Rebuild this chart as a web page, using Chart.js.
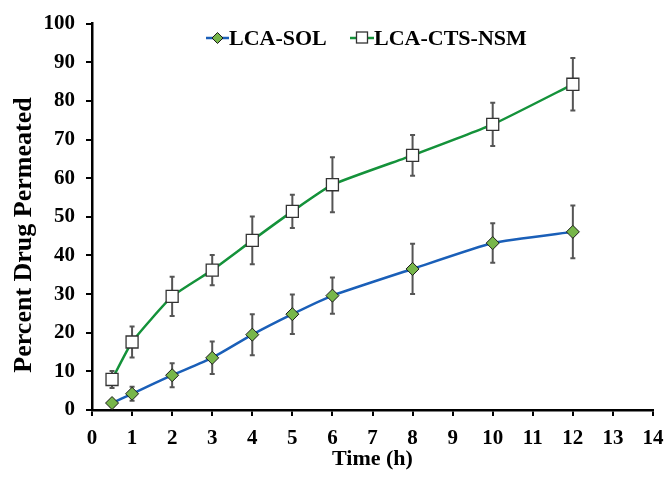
<!DOCTYPE html>
<html>
<head>
<meta charset="utf-8">
<script src="https://cdn.jsdelivr.net/npm/chart.js@4.4.1/dist/chart.umd.min.js"></script>
<style>
  body { margin: 0; background: #fff; }
  .wrap { position: relative; width: 666px; height: 477px; }
  .legend { position: absolute; top: 27px; left: 0; font: bold 22px "Liberation Serif", "Times New Roman", serif; color: #000; }
  .legend .item { position: absolute; display: flex; align-items: center; white-space: nowrap; line-height: 22px; }
  .legend svg { display: block; }
</style>
</head>
<body>
<div class="wrap">
  <canvas id="chart" width="666" height="477"></canvas>
  <div class="legend">
    <div class="item" style="left:206px">
      <svg width="23" height="22"><line x1="0" y1="11" x2="23" y2="11" stroke="#1a5fb8" stroke-width="2.5"/><path d="M11.5 5.5 L17 11 L11.5 16.5 L6 11 Z" fill="#77b64a" stroke="#1a1a1a" stroke-width="1"/></svg>
      <span>LCA-SOL</span>
    </div>
    <div class="item" style="left:350px">
      <svg width="24" height="22"><line x1="0" y1="11" x2="24" y2="11" stroke="#14923a" stroke-width="2.5"/><rect x="6.5" y="5" width="11" height="11" fill="#fff" stroke="#333" stroke-width="1.3"/></svg>
      <span>LCA-CTS-NSM</span>
    </div>
  </div>
</div>
<script>
const times = [0.5, 1, 2, 3, 4, 5, 6, 8, 10, 12];
const solMean = [1.8, 4.2, 9.0, 13.5, 19.5, 24.8, 29.6, 36.5, 43.2, 46.1];
const solErr = [0.8, 1.8, 3.1, 4.2, 5.3, 5.1, 4.7, 6.5, 5.1, 6.8];
const nsmMean = [7.9, 17.6, 29.4, 36.2, 43.9, 51.4, 58.3, 65.9, 73.9, 84.3];
const nsmErr = [2.2, 4.0, 5.1, 3.9, 6.2, 4.3, 7.1, 5.3, 5.6, 6.8];
const seriesNames = ['LCA-SOL', 'LCA-CTS-NSM'];
const xTitle = 'Time (h)';
const yTitle = 'Percent Drug Permeated';

const FONT = '"Liberation Serif", "Times New Roman", serif';

// error bars drawn under the markers
const errorBars = {
    id: 'errorBars',
    beforeDatasetsDraw(chart) {
        const ctx = chart.ctx;
        const y = chart.scales.y;
        ctx.save();
        ctx.strokeStyle = '#555';
        ctx.lineWidth = 2;
        chart.data.datasets.forEach((ds, di) => {
            const meta = chart.getDatasetMeta(di);
            meta.data.forEach((pt, i) => {
                const v = ds.data[i].y, e = ds.errors[i];
                const top = y.getPixelForValue(v + e);
                const bot = y.getPixelForValue(v - e);
                ctx.beginPath();
                ctx.moveTo(pt.x, top); ctx.lineTo(pt.x, bot);
                ctx.moveTo(pt.x - 2.5, top); ctx.lineTo(pt.x + 2.5, top);
                ctx.moveTo(pt.x - 2.5, bot); ctx.lineTo(pt.x + 2.5, bot);
                ctx.stroke();
            });
        });
        ctx.restore();
    }
};

// y title, sits a bit lower than the axis middle like the original
const yTitlePlugin = {
    id: 'yTitle',
    afterDraw(chart) {
        const ctx = chart.ctx;
        ctx.save();
        ctx.translate(24, 235);
        ctx.rotate(-Math.PI / 2);
        ctx.font = 'bold 26px ' + FONT;
        ctx.fillStyle = '#000';
        ctx.textAlign = 'center';
        ctx.textBaseline = 'middle';
        ctx.fillText(yTitle, 0, 0);
        ctx.restore();
    }
};

new Chart(document.getElementById('chart'), {
    type: 'line',
    data: {
        datasets: [
            {
                label: seriesNames[0],
                data: times.map((t, i) => ({ x: t, y: solMean[i] })),
                errors: solErr,
                borderColor: '#1a5fb8',
                borderWidth: 2.5,
                tension: 0.15,
                pointStyle: 'rectRot',
                pointRadius: 6.5,
                pointBackgroundColor: '#77b64a',
                pointBorderColor: '#1a1a1a',
                pointBorderWidth: 1
            },
            {
                label: seriesNames[1],
                data: times.map((t, i) => ({ x: t, y: nsmMean[i] })),
                errors: nsmErr,
                borderColor: '#14923a',
                borderWidth: 2.5,
                tension: 0.15,
                pointStyle: 'rect',
                pointRadius: 8.5,
                pointBackgroundColor: '#fff',
                pointBorderColor: '#333',
                pointBorderWidth: 1.3
            }
        ]
    },
    options: {
        responsive: false,
        animation: false,
        layout: { padding: { top: 21, right: 13, bottom: 0, left: 0 } },
        plugins: { legend: { display: false }, tooltip: { enabled: false } },
        scales: {
            x: {
                type: 'linear',
                min: 0, max: 14,
                afterFit: s => { s.height = 67; s.paddingRight = 0; s.paddingLeft = 0; },
                ticks: { stepSize: 1, color: '#000', padding: 10, font: { family: FONT, size: 21, weight: 'bold' } },
                grid: { drawOnChartArea: false, drawTicks: true, tickLength: 6, color: '#000', lineWidth: 2 },
                border: { color: '#000', width: 2.5 },
                title: { display: true, text: xTitle, color: '#000', padding: { top: 0, bottom: 4 }, font: { family: FONT, size: 22, weight: 'bold' } }
            },
            y: {
                min: 0, max: 100,
                afterFit: s => { s.width = 92; },
                ticks: { stepSize: 10, color: '#000', padding: 11, font: { family: FONT, size: 21, weight: 'bold' } },
                grid: { drawOnChartArea: false, drawTicks: true, tickLength: 6, color: '#000', lineWidth: 2 },
                border: { color: '#000', width: 2.5 }
            }
        }
    },
    plugins: [errorBars, yTitlePlugin]
});
</script>
</body>
</html>
